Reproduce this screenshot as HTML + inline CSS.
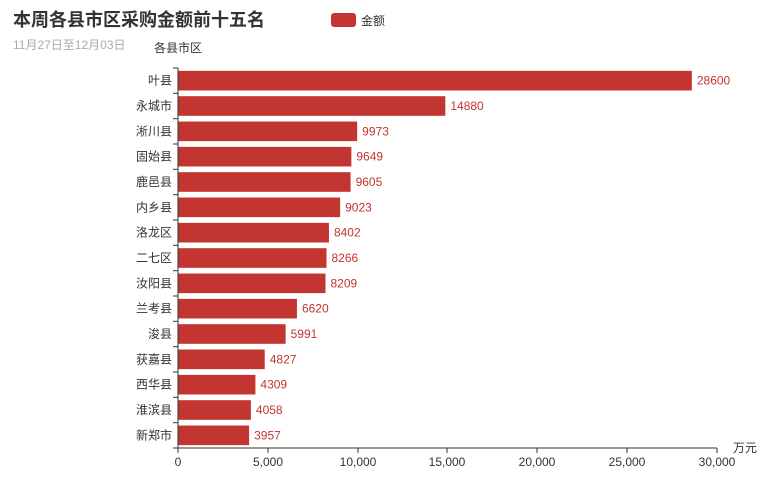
<!DOCTYPE html>
<html><head><meta charset="utf-8"><style>
body{margin:0;background:#fff}
svg{font-family:"Liberation Sans","Noto Sans CJK SC",sans-serif}
</style></head><body>
<svg width="771" height="480" xmlns="http://www.w3.org/2000/svg">
<text x="13" y="26" font-size="18" font-weight="bold" fill="#333">本周各县市区采购金额前十五名</text>
<text x="13" y="49" font-size="12" fill="#aaa">11月27日至12月03日</text>
<rect x="331" y="13" width="25" height="14" rx="3" fill="#c23531"/>
<text x="361" y="25" font-size="12" fill="#333">金额</text>
<text x="178" y="52" font-size="12" fill="#333" text-anchor="middle">各县市区</text>
<text x="733" y="452" font-size="12" fill="#333">万元</text>
<g id="bars"></g>
<line x1="178" y1="68" x2="178" y2="448" stroke="#333"/>
<line x1="178" y1="448" x2="717" y2="448" stroke="#333"/>
<g font-size="12" fill="#333" text-anchor="middle">
<line x1="178" y1="448" x2="178" y2="453" stroke="#333"/><text x="178" y="466">0</text>
<line x1="268" y1="448" x2="268" y2="453" stroke="#333"/><text x="268" y="466">5,000</text>
<line x1="358" y1="448" x2="358" y2="453" stroke="#333"/><text x="358" y="466">10,000</text>
<line x1="447" y1="448" x2="447" y2="453" stroke="#333"/><text x="447" y="466">15,000</text>
<line x1="537" y1="448" x2="537" y2="453" stroke="#333"/><text x="537" y="466">20,000</text>
<line x1="627" y1="448" x2="627" y2="453" stroke="#333"/><text x="627" y="466">25,000</text>
<line x1="717" y1="448" x2="717" y2="453" stroke="#333"/><text x="717" y="466">30,000</text>
</g>
<g id="g"></g>
</svg>
<script>
var d=[["叶县",28600],["永城市",14880],["淅川县",9973],["固始县",9649],["鹿邑县",9605],["内乡县",9023],["洛龙区",8402],["二七区",8266],["汝阳县",8209],["兰考县",6620],["浚县",5991],["获嘉县",4827],["西华县",4309],["淮滨县",4058],["新郑市",3957]];
var ns="http://www.w3.org/2000/svg",g=document.getElementById("g"),b=document.getElementById("bars");
function el(t,a,txt,p){var e=document.createElementNS(ns,t);for(var k in a)e.setAttribute(k,a[k]);if(txt)e.textContent=txt;(p||g).appendChild(e);}
var band=380/15;
for(var i=0;i<=15;i++){var y=68+i*band;el("line",{x1:173,x2:178,y1:y,y2:y,stroke:"#333"});}
d.forEach(function(r,i){var c=68+band*(i+0.5);var w=r[1]/30000*539;
el("rect",{x:178,y:c-9.8,width:w,height:19.6,fill:"#c23531"},null,b);
el("text",{x:172,y:c+4,"font-size":12,fill:"#333","text-anchor":"end"},r[0]);
el("text",{x:178+w+5,y:c+4,"font-size":12,fill:"#c23531"},String(r[1]));});
</script>
</body></html>
